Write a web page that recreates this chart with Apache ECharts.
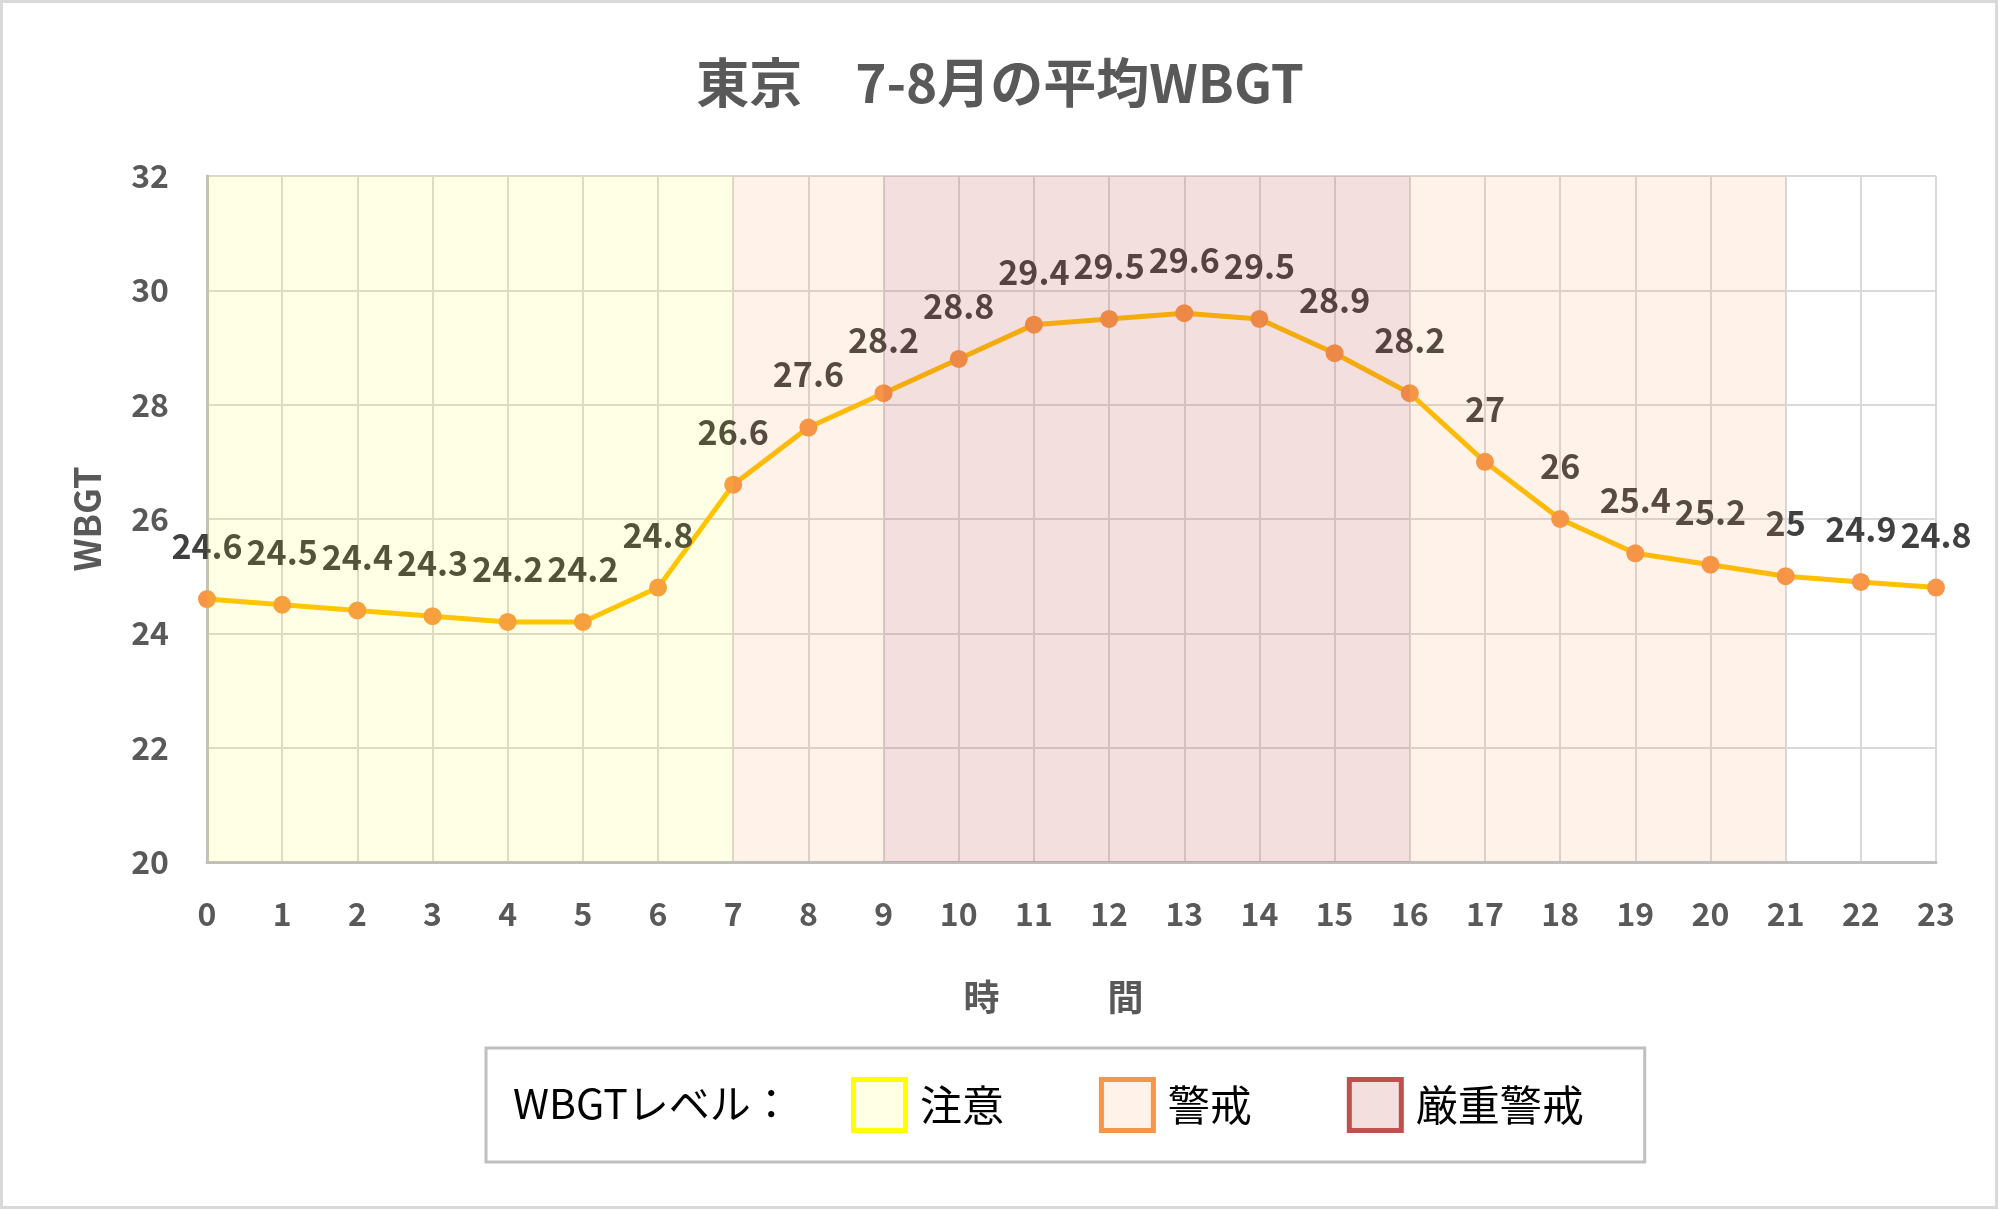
<!DOCTYPE html>
<html>
<head>
<meta charset="utf-8">
<title>東京 7-8月の平均WBGT</title>
<script src="https://cdn.jsdelivr.net/npm/echarts@6/dist/echarts.min.js"></script>
<style>
  html, body { margin: 0; padding: 0; background: #fff; }
  #main { width: 2000px; height: 1210px; }
</style>
</head>
<body>
<div id="main"></div>
<script>
// 時刻 (0〜23時)
var hours = ['0','1','2','3','4','5','6','7','8','9','10','11','12','13','14','15','16','17','18','19','20','21','22','23'];
// 7-8月の平均WBGT
var wbgt = [24.6, 24.5, 24.4, 24.3, 24.2, 24.2, 24.8, 26.6, 27.6, 28.2, 28.8, 29.4,
            29.5, 29.6, 29.5, 28.9, 28.2, 27, 26, 25.4, 25.2, 25, 24.9, 24.8];
// WBGTレベルの時間帯 [開始, 終了]
var levels = ['注意', '警戒', '厳重警戒'];
var levelRanges = [
  [[0, 7]],
  [[7, 9], [16, 21]],
  [[9, 16]]
];

var font = "'Noto Sans CJK JP', 'Noto Sans', sans-serif";
var levelFill = ['rgba(255,255,0,0.10)', 'rgba(247,150,70,0.12)', 'rgba(192,80,77,0.18)'];
var levelBorder = ['#FFFF00', '#F79646', '#C0504D'];

var myChart = echarts.init(document.getElementById('main'));

// 帯はデータ線の上に半透明で重ねる
var bandSeries = levels.map(function (name, i) {
  return {
    name: name,
    type: 'line',
    data: [],
    z: 5,
    markArea: {
      silent: true,
      z: 5,
      itemStyle: { color: levelFill[i] },
      data: levelRanges[i].map(function (r) {
        return [{ xAxis: hours[r[0]] }, { xAxis: hours[r[1]] }];
      })
    }
  };
});

var option = {
  backgroundColor: '#fff',
  textStyle: { fontFamily: font },
  title: {
    text: '東京　7-8月の平均WBGT',
    left: 'center',
    top: 56,
    padding: 0,
    textStyle: { fontFamily: font, fontSize: 53, fontWeight: 'bold', color: '#595959' }
  },
  grid: { left: 207, right: 64, top: 176, bottom: 348 },
  xAxis: {
    type: 'category',
    data: hours,
    boundaryGap: false,
    name: '時　　　間',
    nameLocation: 'middle',
    nameGap: 117,
    nameTextStyle: { fontFamily: font, fontSize: 36, fontWeight: 'bold', color: '#595959', padding: [0, 36, 0, 0] },
    axisLine: { lineStyle: { color: '#BFBFBF', width: 3 } },
    axisTick: { show: false },
    axisLabel: { interval: 0, margin: 36, fontFamily: font, fontSize: 32, fontWeight: 'bold', color: '#595959' },
    splitLine: { show: true, interval: 0, lineStyle: { color: '#D9D9D9', width: 2 } }
  },
  yAxis: {
    type: 'value',
    min: 20,
    max: 32,
    interval: 2,
    name: 'WBGT',
    nameLocation: 'middle',
    nameGap: 102,
    nameTextStyle: { fontFamily: font, fontSize: 36, fontWeight: 'bold', color: '#595959' },
    axisLine: { show: true, lineStyle: { color: '#BFBFBF', width: 3 } },
    axisTick: { show: false },
    axisLabel: { margin: 38, fontFamily: font, fontSize: 32, fontWeight: 'bold', color: '#595959' },
    splitLine: { lineStyle: { color: '#D9D9D9', width: 2 } }
  },
  legend: {
    left: 486,
    top: 1048,
    orient: 'horizontal',
    padding: [29, 61, 29, 365],
    itemWidth: 52,
    itemHeight: 51,
    itemGap: 95,
    borderColor: '#BFBFBF',
    borderWidth: 3,
    selectedMode: false,
    formatter: function (name) { return ' ' + name; },
    textStyle: { fontFamily: font, fontSize: 42, color: '#000' },
    data: levels.map(function (name, i) {
      return {
        name: name,
        icon: 'rect',
        itemStyle: { color: levelFill[i], borderColor: levelBorder[i], borderWidth: 5 }
      };
    })
  },
  graphic: [
    {
      type: 'rect',
      silent: true,
      shape: { x: 1.5, y: 1.5, width: 1995, height: 1206 },
      style: { fill: 'none', stroke: '#D9D9D9', lineWidth: 3 }
    },
    {
      type: 'text',
      silent: true,
      left: 513,
      top: 1083,
      style: { text: 'WBGTレベル：', font: '41px ' + font, fill: '#000' }
    }
  ],
  series: [
    {
      name: 'WBGT',
      type: 'line',
      data: wbgt,
      z: 2,
      symbol: 'circle',
      symbolSize: 18,
      lineStyle: { color: '#FFC000', width: 5 },
      itemStyle: { color: '#F79646' },
      label: {
        show: true,
        position: 'top',
        distance: 27,
        fontFamily: font,
        fontSize: 34,
        fontWeight: 'bold',
        color: '#404040'
      }
    }
  ].concat(bandSeries)
};

myChart.setOption(option);
</script>
</body>
</html>
